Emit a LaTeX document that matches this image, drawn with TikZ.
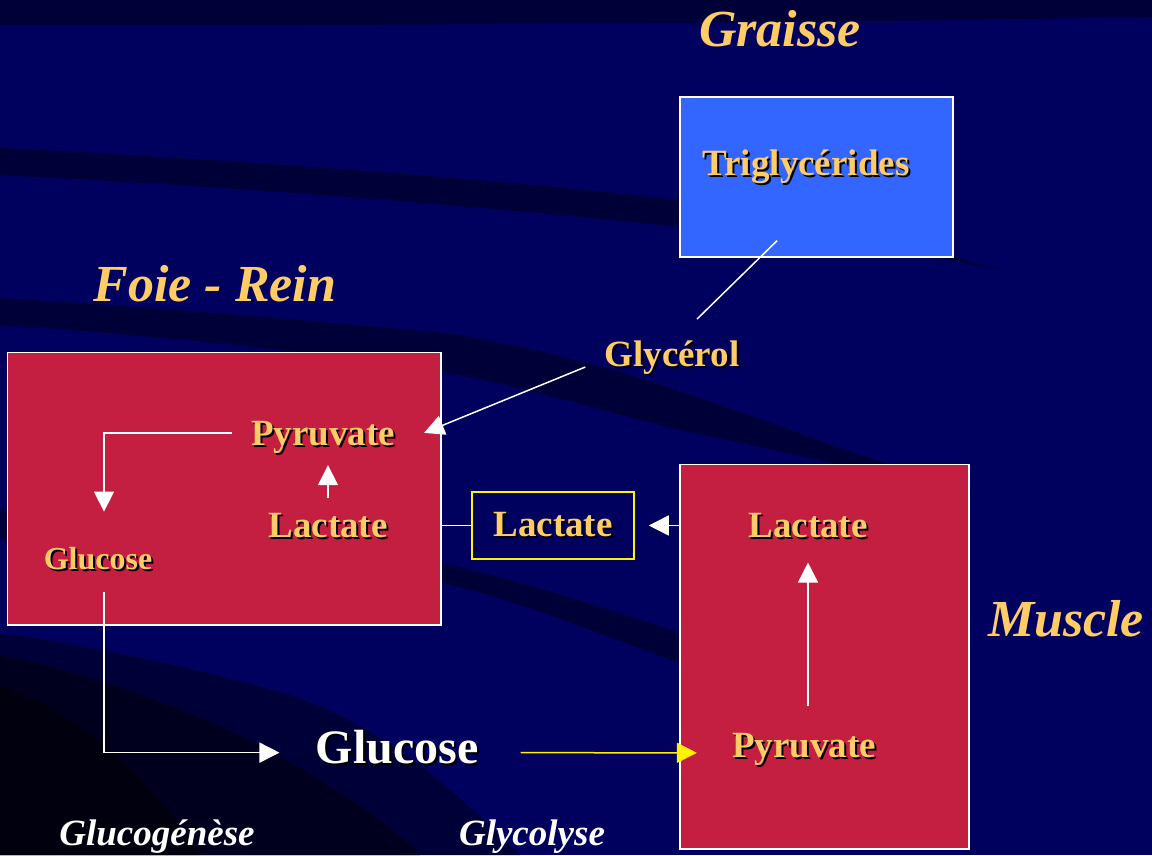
\documentclass[tikz,border=0pt]{standalone}
\usepackage{fontspec}
\setmainfont{Liberation Serif}
\usetikzlibrary{arrows.meta}

\definecolor{navy}{HTML}{00005E}
\definecolor{navydark}{HTML}{000038}
\definecolor{navydeep}{HTML}{00001E}
\definecolor{gold}{HTML}{FFCC66}
\definecolor{crimson}{HTML}{C41F40}
\definecolor{fatblue}{HTML}{3366FF}
\newcommand{\shadowed}[1]{\rlap{\kern2pt\raisebox{-2pt}{\color{black}#1}}#1}

\begin{document}
\begin{tikzpicture}[x=1pt,y=1pt,
  tissue/.style={draw=white, line width=1.5pt, fill=crimson, inner sep=0pt, outer sep=0pt},
  metab/.style={text=gold, font=\fontsize{37}{40}\selectfont\bfseries, inner sep=0pt, anchor=base},
  organ/.style={text=gold, font=\fontsize{52}{56}\selectfont\bfseries\itshape, inner sep=0pt, anchor=base},
  pathway/.style={text=white, font=\fontsize{37}{40}\selectfont\bfseries\itshape, inner sep=0pt, anchor=base},
  link/.style={draw=white, line width=1.5pt},
  flow/.style={link, -{Triangle[length=20pt, width=20pt]}},
  glyflow/.style={draw=yellow, line width=1.5pt, -{Triangle[length=20pt, width=20pt]}}]
\useasboundingbox (0,0) rectangle (1152,855);
% background and swooshes
\fill[navy] (0,0) rectangle (1152,855);
\fill[navydark] (0,855) -- (0,830) .. controls (400,829) and (800,832) .. (1152,838) -- (1152,855) -- cycle;
\fill[navydark] (0,707) .. controls (300,692) and (550,670) .. (680,655) .. controls (800,643) and (900,615) .. (1000,585) .. controls (900,605) and (800,620) .. (680,628) .. controls (550,642) and (300,665) .. (0,680) -- cycle;
\fill[navydark] (0,557) .. controls (200,545) and (350,530) .. (446,522) .. controls (580,500) and (680,465) .. (733,445) .. controls (820,415) and (900,385) .. (980,360) .. controls (880,380) and (780,405) .. (680,425) .. controls (580,450) and (500,475) .. (430,485) .. controls (300,505) and (150,520) .. (0,530) -- cycle;
\fill[navydark] (0,345) .. controls (200,330) and (350,310) .. (441,292) .. controls (530,272) and (610,245) .. (680,222) .. controls (760,195) and (830,160) .. (900,120) .. controls (820,140) and (750,170) .. (680,192) .. controls (600,220) and (520,255) .. (441,272) .. controls (350,290) and (200,305) .. (0,315) -- cycle;
\fill[navydark] (0,222) .. controls (120,205) and (220,180) .. (290,160) .. controls (380,130) and (450,70) .. (520,0) -- (0,0) -- cycle;
\fill[navydeep] (0,200) .. controls (100,180) and (200,140) .. (260,110) .. controls (330,70) and (380,40) .. (420,0) -- (0,0) -- cycle;
\fill[black, opacity=0.5] (0,170) .. controls (80,140) and (150,80) .. (200,0) -- (0,0) -- cycle;

% boxes
\node[tissue, minimum width=433.5pt, minimum height=272.5pt] (foie) at (224.25,366.25) {};
\node[tissue, minimum width=289pt, minimum height=384.5pt] (muscle) at (824.5,198.25) {};
\node[draw=white, line width=1.5pt, fill=fatblue, minimum width=273pt, minimum height=160pt, inner sep=0pt] (trig) at (816.5,678) {};
\node[metab, draw=yellow, line width=1.5pt, minimum width=162pt, minimum height=67pt, anchor=center] (lacX) at (553,329.5) {\shadowed{Lactate}};

% titles
\node[organ] (graisse) at (780,808) {Graisse};
\node[organ] (foietxt) at (215,553) {Foie - Rein};
\node[organ] (muscletxt) at (1066,218) {Muscle};
\node[pathway] (neo) at (157,10) {Glucogénèse};
\node[pathway] (glyco) at (532,10) {Glycolyse};

% metabolites
\node[metab] (trigtxt) at (806,679) {\shadowed{Triglycérides}};
\node[metab] (glyc) at (672,488) {\shadowed{Glycérol}};
\node[metab] (pyrF) at (323,409) {\shadowed{Pyruvate}};
\node[metab] (lacF) at (328,317) {\shadowed{Lactate}};
\node[metab, font=\fontsize{32}{36}\selectfont\bfseries] (gluF) at (98,285) {\shadowed{Glucose}};
\node[metab, text=white, font=\fontsize{48}{52}\selectfont\bfseries] (glu) at (397,92) {\shadowed{Glucose}};
\node[metab] (lacM) at (808,317) {\shadowed{Lactate}};
\node[metab] (pyrM) at (804,98) {\shadowed{Pyruvate}};

% connectors
\draw[link] ([shift={(-39.5,17)}]trig.south) -- ([shift={(25,22)}]glyc.north);
\draw[flow] ([xshift=-19pt]glyc.base west) -- ([shift={(29,6)}]pyrF.east);
\draw[flow, shorten <=19pt, shorten >=36pt] ([yshift=6pt]pyrF.west) -| ([xshift=6pt]gluF.north);
\draw[flow, shorten <=16pt, shorten >=9pt] (lacF.north) -- (lacF.north |- pyrF.south);
\draw[flow, shorten <=19.5pt, shorten >=36pt] ([xshift=6pt]gluF.south) |- ([yshift=-5pt]glu.west);
\draw[glyflow, shorten <=42pt, shorten >=35pt] ([yshift=-5pt]glu.east) -- ([yshift=-3pt]pyrM.west);
\draw[flow, shorten <=26.5pt, shorten >=22pt] (lacM.south |- pyrM.north) -- (lacM.south);
\draw[link] (lacX.west) -- (lacX.west -| foie.east);
\draw[flow, shorten >=14pt] (lacX.east -| muscle.west) -- (lacX.east);
\end{tikzpicture}
\end{document}
